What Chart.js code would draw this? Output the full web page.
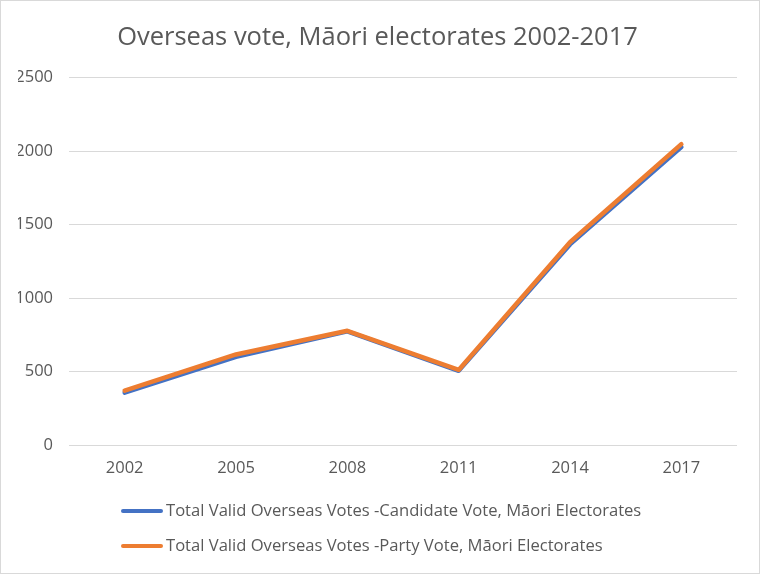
<!DOCTYPE html>
<html lang="en">
<head>
    <meta charset="UTF-8">
    <title>Overseas vote, Māori electorates 2002-2017</title>
    <script src="https://cdn.jsdelivr.net/npm/chart.js@4.4.1/dist/chart.umd.min.js"></script>
    <style>
        html, body {
            margin: 0;
            padding: 0;
            background: #fff;
        }
        #wrap {
            width: 760px;
            height: 574px;
        }
    </style>
</head>
<body>
    <div id="wrap"><canvas id="chart" width="760" height="574"></canvas></div>

    <script>
        const years = ['2002', '2005', '2008', '2011', '2014', '2017'];
        const candidateVotes = [356, 600, 773, 505, 1365, 2028];
        const partyVotes = [370, 616, 777, 511, 1380, 2047];
        const yTicks = [0, 500, 1000, 1500, 2000, 2500];
        const seriesNames = [
            'Total Valid Overseas Votes -Candidate Vote, Māori Electorates',
            'Total Valid Overseas Votes -Party Vote, Māori Electorates'
        ];

        const textColor = '#595959';
        const font = '"Open Sans", "Liberation Sans", sans-serif';

        // frame round the whole picture and the legend under the plot
        const frameAndLegend = {
            id: 'frameAndLegend',
            beforeDraw(chart) {
                const ctx = chart.ctx;
                ctx.save();
                ctx.fillStyle = '#fff';
                ctx.fillRect(0, 0, chart.width, chart.height);
                ctx.strokeStyle = '#d9d9d9';
                ctx.lineWidth = 1;
                ctx.strokeRect(0.5, 0.5, chart.width - 1, chart.height - 1);
                ctx.restore();
            },
            afterDraw(chart) {
                const ctx = chart.ctx;
                ctx.save();
                ctx.font = '16.6px ' + font;
                ctx.textBaseline = 'middle';
                ctx.textAlign = 'left';
                chart.data.datasets.forEach((ds, i) => {
                    const y = 511 + i * 35;
                    ctx.strokeStyle = ds.borderColor;
                    ctx.lineWidth = 4;
                    ctx.lineCap = 'round';
                    ctx.beginPath();
                    ctx.moveTo(123, y);
                    ctx.lineTo(161, y);
                    ctx.stroke();
                    ctx.fillStyle = textColor;
                    ctx.fillText(ds.label, 166, y);
                });
                ctx.restore();
            }
        };

        new Chart(document.getElementById('chart'), {
            type: 'line',
            data: {
                labels: years,
                datasets: [
                    {
                        label: seriesNames[0],
                        data: candidateVotes,
                        borderColor: '#4472C4',
                        backgroundColor: '#4472C4',
                        borderWidth: 4.5,
                        pointRadius: 0,
                        tension: 0,
                        borderCapStyle: 'round',
                        borderJoinStyle: 'round',
                        order: 2
                    },
                    {
                        label: seriesNames[1],
                        data: partyVotes,
                        borderColor: '#ED7D31',
                        backgroundColor: '#ED7D31',
                        borderWidth: 4.5,
                        pointRadius: 0,
                        tension: 0,
                        borderCapStyle: 'round',
                        borderJoinStyle: 'round',
                        order: 1
                    }
                ]
            },
            options: {
                responsive: false,
                animation: false,
                devicePixelRatio: 1,
                layout: {
                    padding: { left: 18, right: 23, top: 0, bottom: 97 }
                },
                plugins: {
                    legend: { display: false },
                    tooltip: { enabled: false },
                    title: {
                        display: true,
                        text: 'Overseas vote, Māori electorates 2002-2017',
                        color: textColor,
                        font: { family: font, size: 25.5, weight: 'normal', lineHeight: 1.2 },
                        padding: { top: 22, bottom: 25 }
                    }
                },
                scales: {
                    x: {
                        offset: true,
                        grid: { display: false, drawTicks: false },
                        border: { display: false },
                        ticks: {
                            color: textColor,
                            font: { family: font, size: 16.5 },
                            padding: 13,
                            maxRotation: 0
                        },
                        afterFit(scale) { scale.height = 32; }
                    },
                    y: {
                        min: 0,
                        max: 2500,
                        afterBuildTicks(scale) {
                            scale.ticks = yTicks.map(v => ({ value: v }));
                        },
                        grid: { color: '#d9d9d9', lineWidth: 1, drawTicks: false },
                        border: { display: false },
                        ticks: {
                            color: textColor,
                            font: { family: font, size: 16.5 },
                            padding: 16,
                            callback: v => String(v)
                        },
                        afterFit(scale) { scale.width = 51; }
                    }
                }
            },
            plugins: [frameAndLegend]
        });
    </script>
</body>
</html>
